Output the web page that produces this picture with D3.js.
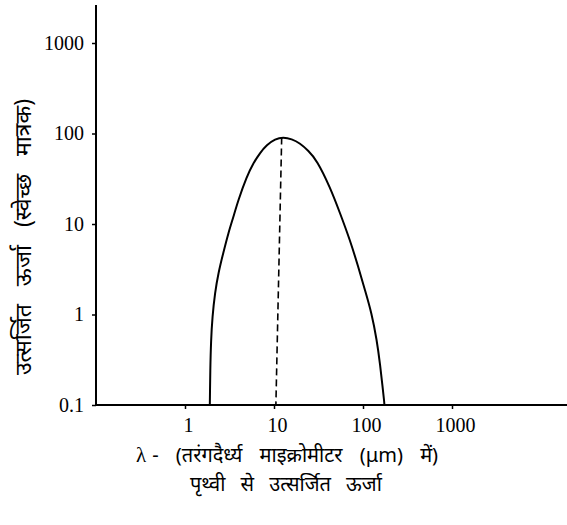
<!DOCTYPE html>
<html>
<head>
<meta charset="utf-8">
<script src="https://cdn.jsdelivr.net/npm/d3@7"></script>
<style>
  body { margin: 0; background: #fff; }
  svg { display: block; }
</style>
</head>
<body>
<div id="chart"></div>
<script>
// wavelength (µm) and emitted energy (arbitrary units)
const wavelength = [1.9, 1.91, 1.92, 1.96, 2.03, 2.17, 2.37, 2.69, 3.07, 3.49, 3.97, 4.93, 5.85, 6.96, 8.27, 10.3, 12.7, 15.8, 19.6, 24.3, 30.2, 42.6, 55.2, 71.4, 88.6, 105, 125, 143, 155, 166, 173, 174];
const energy = [0.1, 0.14, 0.23, 0.52, 0.94, 1.73, 2.88, 4.79, 7.96, 11.9, 18.4, 33.3, 46.9, 61, 74.6, 87, 91, 87, 78, 64.5, 51, 25.6, 13.2, 6.65, 3.35, 1.87, 1.04, 0.52, 0.29, 0.158, 0.11, 0.1];

// dashed drop line from the peak (slightly slanted in the print)
const dashWavelength = [12.2, 10.5];
const dashEnergy = [90.5, 0.1];

const xTicks = [1, 10, 100, 1000];
const yTicks = [0.1, 1, 10, 100, 1000];
const yTickLabels = ["0.1", "1", "10", "100", "1000"];

const yTitle = "उत्सर्जित ऊर्जा (स्वेच्छ मात्रक)";
const xTitleSymbol = "λ";
const xTitle = "- (तरंगदैर्ध्य माइक्रोमीटर (μm) में)";
const caption = "पृथ्वी से उत्सर्जित ऊर्जा";

const width = 567, height = 525;
const svg = d3.select("#chart").append("svg")
    .attr("width", width)
    .attr("height", height);

// about 89px per decade, starting at 0.1
const xScale = d3.scaleLog()
    .domain([0.1, 20000])
    .range([96, 96 + 89 * Math.log10(20000 / 0.1)]);

const yScale = d3.scaleLog()
    .domain([0.1, 2630])
    .range([405, 5]);

const serif = "'Liberation Serif', 'Times New Roman', serif";
const hindi = "'Noto Sans', sans-serif";

// x axis
const gX = svg.append("g")
    .attr("transform", `translate(0,${yScale(0.1)})`)
    .call(d3.axisBottom(xScale).tickValues(xTicks).tickSize(4).tickFormat(d3.format("d")));
gX.select(".domain").attr("stroke-width", 2).attr("d", `M${xScale(0.1)},0H${width}`);
gX.selectAll(".tick line").attr("stroke-width", 1.5);
gX.selectAll(".tick text")
    .attr("y", 13)
    .attr("dx", 3)
    .attr("font-family", serif)
    .attr("font-size", 20)
    .attr("fill", "#000");

// y axis
const gY = svg.append("g")
    .attr("transform", `translate(${xScale(0.1)},0)`)
    .call(d3.axisLeft(yScale).tickValues(yTicks).tickSize(4)
        .tickFormat((d, i) => yTickLabels[i]));
gY.select(".domain").attr("stroke-width", 2).attr("d", `M0,${yScale.range()[1]}V${yScale.range()[0]}`);
gY.selectAll(".tick line").attr("stroke-width", 1.5);
gY.selectAll(".tick text")
    .attr("x", -12)
    .attr("font-family", serif)
    .attr("font-size", 20)
    .attr("fill", "#000");

// emission curve
const lineGenerator = d3.line()
    .x((d, i) => xScale(wavelength[i]))
    .y(d => yScale(d))
    .curve(d3.curveBasis);

svg.append("path")
    .datum(energy)
    .attr("d", lineGenerator)
    .attr("fill", "none")
    .attr("stroke", "#000")
    .attr("stroke-width", 2);

svg.append("line")
    .attr("x1", xScale(dashWavelength[0]))
    .attr("x2", xScale(dashWavelength[1]))
    .attr("y1", yScale(dashEnergy[0]))
    .attr("y2", yScale(dashEnergy[1]))
    .attr("stroke", "#000")
    .attr("stroke-width", 1.6)
    .attr("stroke-dasharray", "7,4");

// titles
svg.append("text")
    .attr("transform", "translate(31,375) rotate(-90)")
    .attr("text-anchor", "start")
    .attr("font-size", 23)
    .attr("word-spacing", 12)
    .attr("font-family", hindi)
    .text(yTitle);

const t1 = svg.append("text")
    .attr("x", 136)
    .attr("y", 462)
    .attr("font-size", 20)
    .attr("word-spacing", 12)
    .attr("font-family", hindi);
t1.append("tspan").attr("font-family", serif).attr("font-size", 21).text(xTitleSymbol);
t1.append("tspan").attr("dx", 6).text(xTitle);

svg.append("text")
    .attr("x", 190)
    .attr("y", 491)
    .attr("font-size", 20)
    .attr("word-spacing", 10)
    .attr("font-family", hindi)
    .text(caption);
</script>
</body>
</html>
